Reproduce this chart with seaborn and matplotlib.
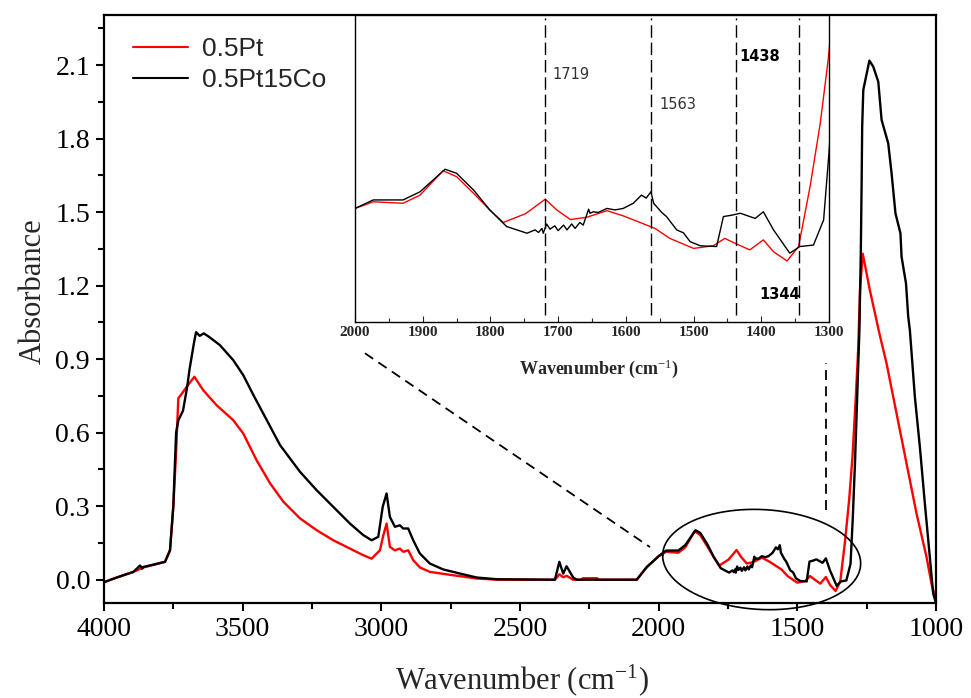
import numpy as np
import pandas as pd
import matplotlib
matplotlib.use("Agg")
import matplotlib.pyplot as plt
from matplotlib.ticker import MultipleLocator, FormatStrFormatter
import seaborn as sns

# ---- FTIR spectra (wavenumber in cm-1, absorbance) ----
wn_pt = [4000, 3954, 3894, 3858, 3780, 3762, 3750, 3740, 3732, 3715, 3700, 3674,
         3642, 3594, 3534, 3498, 3450, 3401, 3353, 3293, 3233, 3173, 3113, 3065,
         3035, 3005, 2993, 2981, 2969, 2951, 2933, 2921, 2903, 2885, 2861, 2825,
         2740, 2656, 2580, 2374, 2358, 2344, 2332, 2308, 2280, 2273, 2222, 2215,
         2079, 2043, 2020, 2000, 1973, 1929, 1904, 1870, 1850, 1825, 1801, 1781,
         1748, 1719, 1702, 1682, 1658, 1628, 1604, 1579, 1557, 1535, 1500, 1471,
         1454, 1439, 1417, 1397, 1382, 1362, 1345, 1328, 1313, 1301, 1289, 1280,
         1274, 1264, 1238, 1204, 1178, 1142, 1106, 1070, 1034, 1016, 1000]
abs_pt = [-0.010, 0.009, 0.032, 0.050, 0.073, 0.120, 0.300, 0.520, 0.740, 0.766, 0.790, 0.828,
          0.773, 0.712, 0.651, 0.597, 0.488, 0.393, 0.318, 0.250, 0.202, 0.161, 0.127, 0.100,
          0.086, 0.120, 0.180, 0.229, 0.134, 0.120, 0.127, 0.114, 0.120, 0.080, 0.050, 0.032,
          0.018, 0.005, 0.000, 0.000, 0.022, 0.010, 0.016, 0.000, 0.000, 0.006, 0.006, 0.000,
          0.000, 0.050, 0.075, 0.096, 0.114, 0.110, 0.132, 0.198, 0.182, 0.137, 0.092, 0.058,
          0.082, 0.121, 0.092, 0.066, 0.072, 0.090, 0.076, 0.058, 0.042, 0.015, -0.012, -0.005,
          0.015, 0.002, -0.016, 0.011, -0.021, -0.046, -0.007, 0.155, 0.326, 0.502, 0.746, 0.950,
          1.180, 1.330, 1.180, 1.005, 0.882, 0.678, 0.474, 0.270, 0.093, -0.016, -0.084]

wn_ptco = [4000, 3954, 3894, 3870, 3862, 3858, 3820, 3780, 3762, 3750, 3740, 3732,
           3715, 3700, 3692, 3675, 3668, 3655, 3640, 3620, 3582, 3534, 3498, 3461,
           3413, 3365, 3293, 3233, 3173, 3113, 3065, 3035, 3011, 2995, 2981, 2969,
           2951, 2933, 2921, 2903, 2885, 2861, 2825, 2777, 2716, 2656, 2584, 2374,
           2358, 2344, 2332, 2308, 2295, 2079, 2043, 2020, 2000, 1973, 1929, 1904,
           1867, 1850, 1825, 1801, 1776, 1746, 1734, 1729, 1724, 1722, 1717, 1712,
           1705, 1700, 1692, 1687, 1680, 1675, 1668, 1663, 1655, 1653, 1648, 1641,
           1628, 1616, 1604, 1589, 1577, 1570, 1563, 1559, 1547, 1540, 1525, 1515,
           1505, 1490, 1466, 1456, 1443, 1431, 1420, 1409, 1397, 1382, 1358, 1343,
           1323, 1308, 1300, 1292, 1284, 1276, 1271, 1268, 1266, 1262, 1240, 1226,
           1208, 1196, 1172, 1160, 1146, 1128, 1124, 1108, 1100, 1094, 1076, 1058,
           1040, 1022, 1010, 1000]
abs_ptco = [-0.010, 0.009, 0.032, 0.058, 0.045, 0.052, 0.062, 0.073, 0.120, 0.300, 0.600, 0.650,
            0.690, 0.787, 0.855, 0.970, 1.010, 0.995, 1.005, 0.990, 0.957, 0.896, 0.835, 0.753,
            0.651, 0.549, 0.440, 0.365, 0.297, 0.229, 0.182, 0.161, 0.175, 0.297, 0.352, 0.256,
            0.216, 0.222, 0.209, 0.209, 0.161, 0.107, 0.066, 0.042, 0.025, 0.009, 0.002, 0.000,
            0.073, 0.025, 0.055, 0.009, 0.000, 0.000, 0.052, 0.075, 0.096, 0.119, 0.119, 0.141,
            0.202, 0.191, 0.146, 0.092, 0.047, 0.029, 0.038, 0.031, 0.042, 0.029, 0.054, 0.040,
            0.049, 0.036, 0.051, 0.038, 0.054, 0.042, 0.058, 0.051, 0.094, 0.083, 0.087, 0.085,
            0.096, 0.092, 0.096, 0.110, 0.132, 0.124, 0.141, 0.110, 0.085, 0.074, 0.038, 0.030,
            0.006, -0.005, -0.007, 0.074, 0.078, 0.083, 0.076, 0.069, 0.087, 0.038, -0.025, -0.007,
            -0.003, 0.065, 0.249, 0.474, 0.746, 1.018, 1.331, 1.617, 1.848, 1.998, 2.118, 2.093,
            2.032, 1.876, 1.780, 1.658, 1.495, 1.413, 1.318, 1.209, 1.073, 1.018, 0.746, 0.542,
            0.311, 0.093, -0.056, -0.095]

samples = ["0.5Pt", "0.5Pt15Co"]
colors = {"0.5Pt": "#ff0000", "0.5Pt15Co": "#000000"}

# band positions marked in the zoomed panel
marked_bands = [1719, 1563, 1438, 1344]
main_ticks = [4000, 3500, 3000, 2500, 2000, 1500, 1000]
inset_ticks = [2000, 1900, 1800, 1700, 1600, 1500, 1400, 1300]

df = pd.concat([
    pd.DataFrame({"Wavenumber": wn_pt, "Absorbance": abs_pt, "Sample": samples[0]}),
    pd.DataFrame({"Wavenumber": wn_ptco, "Absorbance": abs_ptco, "Sample": samples[1]}),
], ignore_index=True)

sns.set_style("ticks")
plt.rcParams.update({
    "font.family": ["Liberation Serif", "DejaVu Serif"],
    "mathtext.fontset": "custom",
    "mathtext.rm": "Liberation Serif",
    "mathtext.it": "Liberation Serif:italic",
    "mathtext.bf": "Liberation Serif:bold",
    "axes.edgecolor": "black",
})

fig = plt.figure(figsize=(9.71, 6.98), dpi=100)

# ---------- main panel ----------
ax = fig.add_axes([0.1071, 0.1361, 0.8568, 0.8424])
sns.lineplot(data=df, x="Wavenumber", y="Absorbance", hue="Sample",
             hue_order=samples, palette=colors, estimator=None, sort=False,
             lw=1.7, legend=False, ax=ax)
ax.set_xlim(4000, 1000)
ax.set_ylim(-0.095, 2.304)
ax.set_xticks(main_ticks)
ax.xaxis.set_minor_locator(MultipleLocator(250))
ax.yaxis.set_major_locator(MultipleLocator(0.3))
ax.yaxis.set_minor_locator(MultipleLocator(0.15))
ax.yaxis.set_major_formatter(FormatStrFormatter("%.1f"))
for s in ax.spines.values():
    s.set_linewidth(1.6)
ax.tick_params(which="both", direction="out", width=1.5, colors="black",
               labelsize=20, pad=4)
ax.tick_params(which="major", length=6)
ax.tick_params(which="minor", length=4)
ax.set_xlabel("Wavenumber (cm$^{-1}$)", fontsize=22)
ax.set_ylabel("Absorbance", fontsize=22)
ax.xaxis.set_label_coords(0.502, -0.10)
ax.yaxis.set_label_coords(-0.068, 0.53)

leg = ax.legend(handles=ax.lines[:2], labels=samples, loc="upper left",
                bbox_to_anchor=(0.019, 0.985), frameon=False, borderpad=0,
                handlelength=2.1, handletextpad=0.5, labelspacing=0.28,
                prop={"family": "Liberation Sans", "size": 19})
for h in leg.legend_handles:
    h.set_linewidth(1.5)

# dashed guides from the zoom panel to the highlighted region
guide = dict(color="black", lw=1.3, ls=(0, (5.5, 3.5)))
ax.plot([3059, 2031], [0.924, 0.133], **guide)
ax.plot([1397, 1397], [0.284, 0.884], **guide)

# ellipse around the 2000-1300 cm-1 region
t = np.linspace(0, 2 * np.pi, 300)
ax.plot(1628.5 + 357 * np.cos(t), 0.0824 + 0.204 * np.sin(t) + 0.016 * np.cos(t),
        color="black", lw=1.2, clip_on=False)

# ---------- zoomed panel ----------
axin = fig.add_axes([0.3656, 0.5387, 0.4882, 0.4398])
axin.set_facecolor("white")
sns.lineplot(data=df, x="Wavenumber", y="Absorbance", hue="Sample",
             hue_order=samples, palette=colors, estimator=None, sort=False,
             lw=1.0, legend=False, ax=axin)
axin.set_xlim(2000, 1300)
axin.set_ylim(-0.211, 0.619)
axin.set_yticks([])
axin.set_ylabel("")
axin.set_xticks(inset_ticks)
axin.xaxis.set_minor_locator(MultipleLocator(50))
for s in axin.spines.values():
    s.set_linewidth(1.0)
axin.tick_params(which="both", direction="in", width=0.8, labelsize=11, pad=3)
axin.tick_params(which="major", length=4)
axin.tick_params(which="minor", length=3)
plt.setp(axin.get_xticklabels(), fontweight="bold")
axin.set_xlabel("Wavenumber (cm$^{-1}$)", fontsize=13, fontweight="bold")
axin.xaxis.set_label_coords(0.515, -0.115)

for w in marked_bands:
    axin.axvline(w, ymin=0.023, ymax=0.99, color="black", lw=1.0,
                 dashes=(9, 3.5))

lab_font = dict(family="DejaVu Sans", fontsize=10.5, ha="left", va="center")
axin.text(1708, 0.459, "1719", color="#333333", **lab_font)
axin.text(1550, 0.376, "1563", color="#333333", **lab_font)
axin.text(1433, 0.508, "1438", color="black", fontweight="bold", **lab_font)
axin.text(1403, -0.138, "1344", color="black", fontweight="bold", **lab_font)

fig.savefig("out.png", dpi=100, facecolor="white")
